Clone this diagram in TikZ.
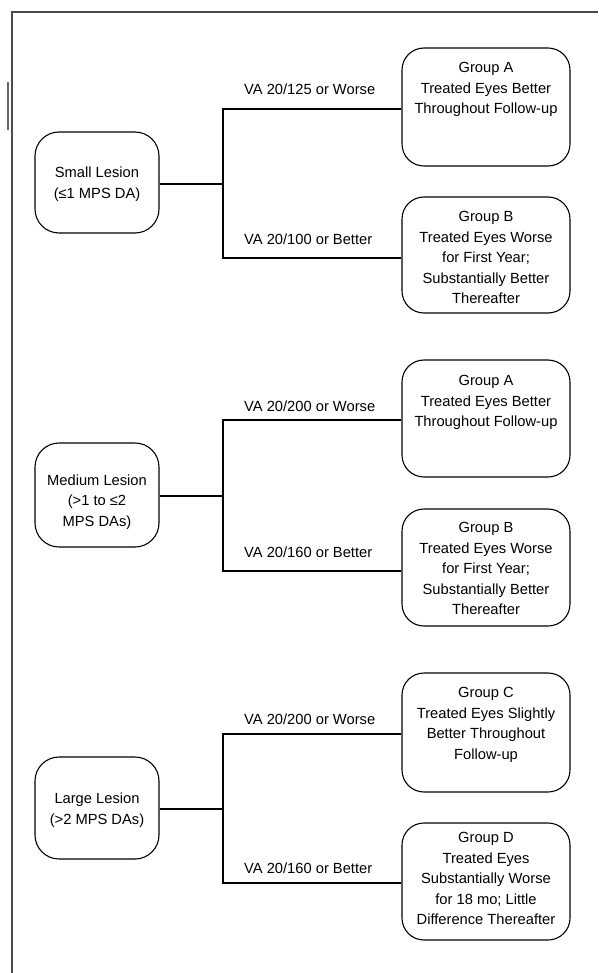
\documentclass[tikz,border=0pt]{standalone}
\usepackage{fontspec}
\setmainfont{Liberation Sans}
\begin{document}
\begin{tikzpicture}[x=1pt,y=-1pt,
  frame/.style={line width=1.5pt, draw=black!70},
  lesion/.style={draw, line width=1.1pt, rounded corners=24pt, inner sep=0pt, minimum width=124pt},
  group/.style={draw, line width=1.1pt, rounded corners=22pt, inner sep=0pt, minimum width=168pt},
  txt/.style={align=center, inner sep=0pt, font=\fontsize{14.7}{20.5}\selectfont},
  lbl/.style={inner sep=0pt, anchor=base west, font=\fontsize{14.7}{20.5}\selectfont},
  conn/.style={line width=1.1pt}]
\useasboundingbox (0,0) rectangle (598,973);
% frame
\coordinate (f1) at (12,973);
\coordinate (f2) at (12,12);
\coordinate (f3) at (598,12);
\draw[frame] (f1) -- (f2) -- (f3);
\coordinate (m1) at (8,82);
\coordinate (m2) at (8,130);
\draw[line width=1.3pt, draw=black!60] (m1) -- (m2);

% ---------- Small ----------
\node[lesion, minimum height=101pt] (S) at (97,182.5) {};
\node[txt] (tS) at (97,184) {Small Lesion\\(≤1 MPS DA)};
\node[group, minimum height=118pt] (A1) at (486,107) {};
\node[txt, anchor=north] (tA1) at ([yshift=-15pt]A1.north) {Group A\\Treated Eyes Better\\Throughout Follow-up};
\node[group, minimum height=116pt] (B1) at (486,255) {};
\node[txt, anchor=north] (tB1) at ([yshift=-15pt]B1.north) {Group B\\Treated Eyes Worse\\for First Year;\\Substantially Better\\Thereafter};
\coordinate (j1) at (223,184);
\coordinate (u1) at (223,109);
\coordinate (d1) at (223,258);
\draw[conn] (S.east |- j1) -- (j1);
\draw[conn] (u1 -| A1.west) -- (u1) -- (d1) -- (d1 -| B1.west);
\node[lbl] (lu1) at (244,95) {VA 20/125 or Worse};
\node[lbl] (ld1) at (244,245) {VA 20/100 or Better};

% ---------- Medium ----------
\node[lesion, minimum height=104pt] (M) at (97,495) {};
\node[txt] (tM) at (97,502) {Medium Lesion\\(>1 to ≤2\\MPS DAs)};
\node[group, minimum height=117pt] (A2) at (486,418.5) {};
\node[txt, anchor=north] (tA2) at ([yshift=-16pt]A2.north) {Group A\\Treated Eyes Better\\Throughout Follow-up};
\node[group, minimum height=117pt] (B2) at (486,567.5) {};
\node[txt, anchor=north] (tB2) at ([yshift=-14pt]B2.north) {Group B\\Treated Eyes Worse\\for First Year;\\Substantially Better\\Thereafter};
\coordinate (j2) at (223,496);
\coordinate (u2) at (223,420);
\coordinate (d2) at (223,571);
\draw[conn] (M.east |- j2) -- (j2);
\draw[conn] (u2 -| A2.west) -- (u2) -- (d2) -- (d2 -| B2.west);
\node[lbl] (lu2) at (244,411) {VA 20/200 or Worse};
\node[lbl] (ld2) at (244,557) {VA 20/160 or Better};

% ---------- Large ----------
\node[lesion, minimum height=102pt] (L) at (97,808) {};
\node[txt] (tL) at (97,810) {Large Lesion\\(>2 MPS DAs)};
\node[group, minimum height=119pt] (C) at (486,732.5) {};
\node[txt, anchor=north] (tC) at ([yshift=-15pt]C.north) {Group C\\Treated Eyes Slightly\\Better Throughout\\Follow-up};
\node[group, minimum height=117pt] (D) at (486,881.5) {};
\node[txt, anchor=north] (tD) at ([yshift=-10pt]D.north) {Group D\\Treated Eyes\\Substantially Worse\\for 18 mo; Little\\Difference Thereafter};
\coordinate (j3) at (223,809);
\coordinate (u3) at (223,734);
\coordinate (d3) at (223,883);
\draw[conn] (L.east |- j3) -- (j3);
\draw[conn] (u3 -| C.west) -- (u3) -- (d3) -- (d3 -| D.west);
\node[lbl] (lu3) at (244,724) {VA 20/200 or Worse};
\node[lbl] (ld3) at (244,873) {VA 20/160 or Better};
\end{tikzpicture}
\end{document}
